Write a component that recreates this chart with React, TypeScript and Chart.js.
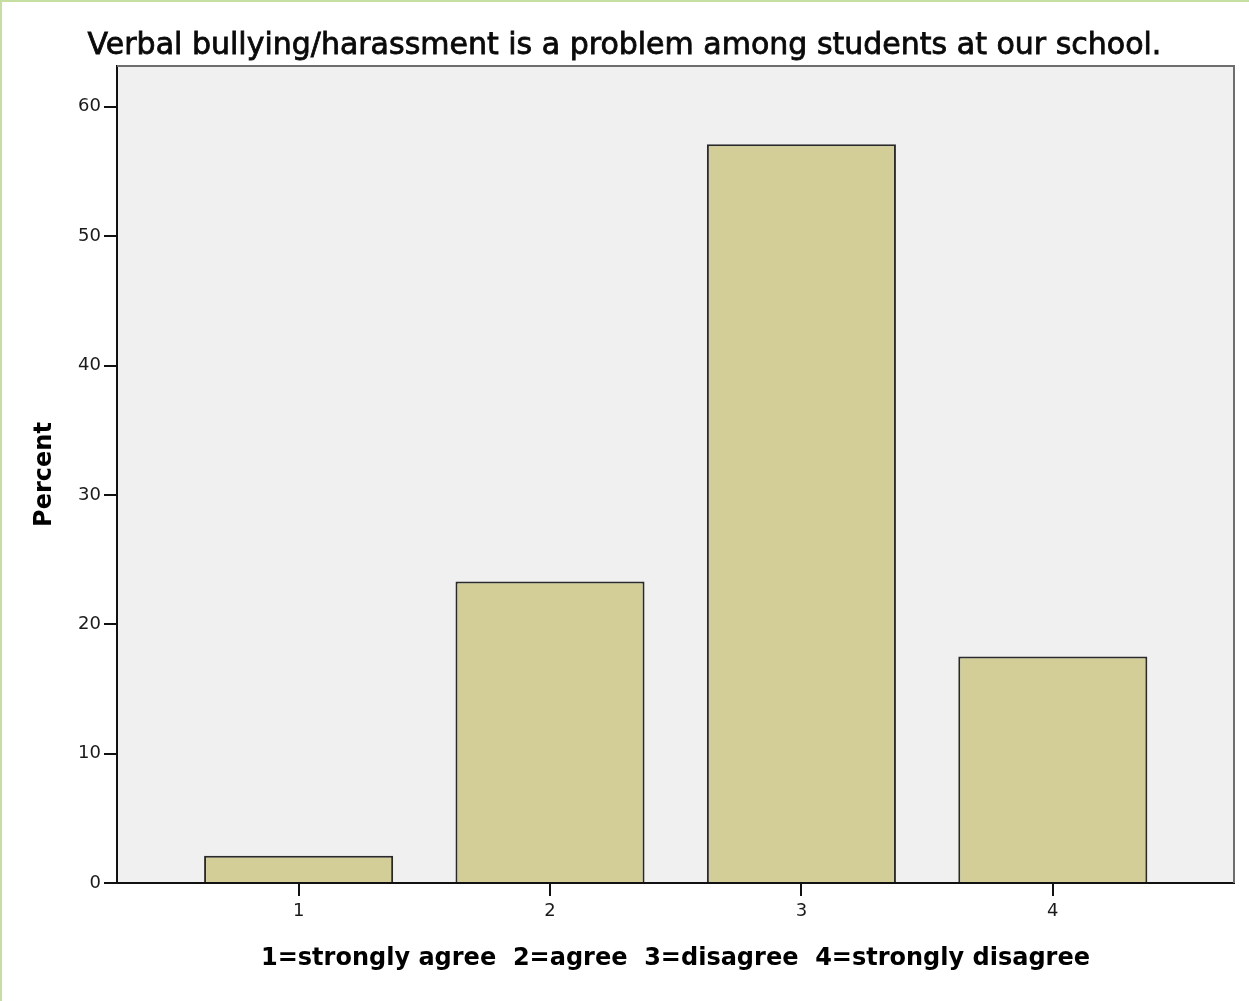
import React, { useEffect, useRef } from 'react';
import { Chart, registerables } from 'chart.js';

Chart.register(...registerables);

// ---- data ----
const chartTitle = 'Verbal bullying/harassment is a problem among students at our school.';
const xAxisTitle = '1=strongly agree  2=agree  3=disagree  4=strongly disagree';
const yAxisTitle = 'Percent';
const categories = [1, 2, 3, 4];
const categoryLabels = ['1', '2', '3', '4'];
const percentValues = [2.1, 23.3, 57.1, 17.5];
const yTickValues = [0, 10, 20, 30, 40, 50, 60];
const yMax = 63.15;
const xMin = 0.2776;
const xMax = 4.7207;

const W = 1249;
const H = 1001;

export default function App() {
  const ref = useRef<HTMLCanvasElement>(null);

  useEffect(() => {
    const canvas = ref.current;
    if (!canvas) return;

    const decor = {
      id: 'decor',
      beforeDraw(chart: any) {
        const { ctx, chartArea: a } = chart;
        ctx.save();
        ctx.fillStyle = '#ffffff';
        ctx.fillRect(0, 0, W, H);
        ctx.fillStyle = '#f0f0f0';
        ctx.fillRect(a.left, a.top, a.right - a.left, a.bottom - a.top);
        ctx.restore();
      },
      afterDraw(chart: any) {
        const { ctx, chartArea: a } = chart;
        ctx.save();
        ctx.strokeStyle = '#6e6e6e';
        ctx.lineWidth = 2;
        ctx.beginPath();
        ctx.moveTo(a.left, a.top);
        ctx.lineTo(a.right, a.top);
        ctx.lineTo(a.right, a.bottom);
        ctx.stroke();
        ctx.fillStyle = '#c6dea2';
        ctx.fillRect(0, 0, W, 2);
        ctx.fillRect(0, 0, 2, H);
        ctx.fillStyle = '#0a0a0a';
        ctx.strokeStyle = '#0a0a0a';
        ctx.lineWidth = 0.8;
        ctx.font = '30px "DejaVu Sans"';
        ctx.textAlign = 'center';
        ctx.textBaseline = 'alphabetic';
        ctx.fillText(chartTitle, W / 2, 54);
        ctx.strokeText(chartTitle, W / 2, 54);
        ctx.restore();
      },
    };

    const tickFont = { family: 'DejaVu Sans', size: 18 };
    const titleFont = { family: 'DejaVu Sans', size: 24, weight: 'bold' as const };

    const chart = new Chart(canvas, {
      type: 'bar',
      data: {
        datasets: [
          {
            data: categories.map((c, i) => ({ x: c, y: percentValues[i] })),
            backgroundColor: '#d3ce97',
            borderColor: '#2a2a2a',
            borderWidth: 2,
            borderSkipped: 'start',
            categoryPercentage: 1,
            barPercentage: 0.752,
          },
        ],
      },
      options: {
        responsive: false,
        animation: false,
        devicePixelRatio: 1,
        layout: { padding: { left: 0, right: 15, top: 66, bottom: 0 } },
        plugins: {
          legend: { display: false },
          tooltip: { enabled: false },
          title: { display: false },
        },
        scales: {
          x: {
            type: 'linear',
            min: xMin,
            max: xMax,
            offset: false,
            afterFit: (s: any) => {
              s.height = 118;
            },
            afterBuildTicks: (s: any) => {
              s.ticks = categories.map((v) => ({ value: v }));
            },
            ticks: {
              callback: (v: any) => {
                const i = categories.indexOf(Number(v));
                return i >= 0 ? categoryLabels[i] : '';
              },
              font: tickFont,
              color: '#1a1a1a',
              padding: 5,
              maxRotation: 0,
              autoSkip: false,
            },
            grid: {
              offset: false,
              drawOnChartArea: false,
              drawTicks: true,
              tickLength: 13,
              color: '#111111',
              lineWidth: 2,
            },
            border: { display: true, color: '#111111', width: 2 },
            title: {
              display: true,
              text: xAxisTitle,
              font: titleFont,
              color: '#000000',
              padding: { top: 0, bottom: 28 },
            },
          },
          y: {
            type: 'linear',
            min: 0,
            max: yMax,
            afterFit: (s: any) => {
              s.width = 117;
            },
            afterBuildTicks: (s: any) => {
              s.ticks = yTickValues.map((v) => ({ value: v }));
            },
            ticks: {
              font: tickFont,
              color: '#1a1a1a',
              padding: 3,
              autoSkip: false,
            },
            grid: {
              drawOnChartArea: false,
              drawTicks: true,
              tickLength: 13,
              color: '#111111',
              lineWidth: 2,
            },
            border: { display: true, color: '#111111', width: 2 },
            title: {
              display: true,
              text: yAxisTitle,
              font: titleFont,
              color: '#000000',
              padding: { top: 30, bottom: 0 },
            },
          },
        },
      },
      plugins: [decor],
    } as any);

    return () => {
      chart.destroy();
    };
  }, []);

  return (
    <div style={{ position: 'absolute', left: 0, top: 0, width: W, height: H }}>
      <canvas ref={ref} width={W} height={H} style={{ display: 'block' }} />
    </div>
  );
}
